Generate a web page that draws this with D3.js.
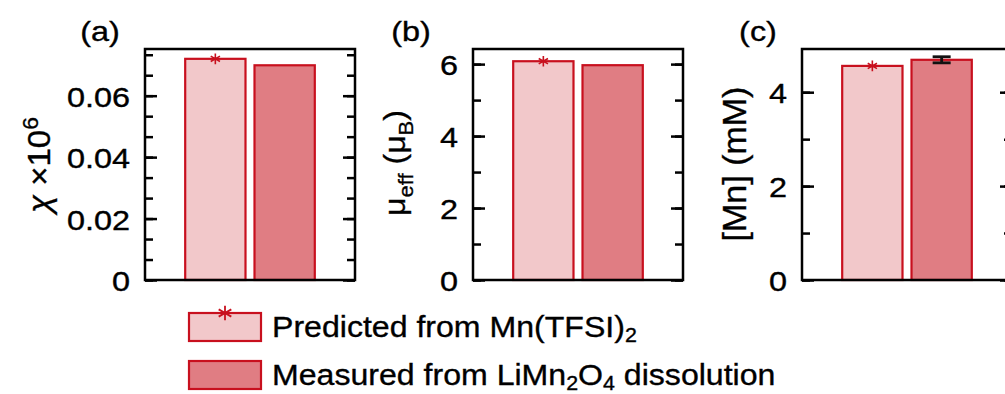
<!DOCTYPE html>
<html>
<head>
<meta charset="utf-8">
<script src="https://cdn.jsdelivr.net/npm/d3@7"></script>
<style>
  body { margin: 0; background: #fff; }
  text { font-family: "Liberation Sans", Arial, sans-serif; fill: #000; stroke: #000; stroke-width: 0.35px; }
</style>
</head>
<body>
<script>
// categories and values
const categories = ["Predicted", "Measured"];
const chiValues = [0.0720, 0.0699];
const muValues = [6.08, 5.97];
const mnValues = [4.56, 4.69];
const mnErrors = [0, 0.065];

const chiTicks = [0, 0.02, 0.04, 0.06];
const muTicks = [0, 2, 4, 6];
const mnTicks = [0, 2, 4];

const fills = ["#f2c8ca", "#e07d83"];
const edge = "#c8101e";

const width = 1005, height = 394;
const plotTop = 49, plotBottom = 280, panelW = 210;
const SX = 1.2; // tick text is drawn wide in the figure

const svg = d3.select("body").append("svg")
  .attr("width", width)
  .attr("height", height);

svg.append("rect").attr("width", width).attr("height", height).attr("fill", "#fff");

function label(g, x, y, size, anchor, rotate, sx) {
  let t = g.append("text")
    .attr("transform", `translate(${x},${y}) scale(${sx || SX},1)` + (rotate ? " rotate(-90)" : ""))
    .attr("font-size", size)
    .attr("text-anchor", anchor);
  return t;
}

function drawPanel(opts) {
  const x0 = opts.left;
  const y = d3.scaleLinear().domain([0, opts.max]).range([plotBottom, plotTop]);
  const x = d3.scaleBand().domain(categories)
    .range([x0, x0 + panelW]).paddingInner(0.13).paddingOuter(0.58);

  const g = svg.append("g");

  // bars
  g.selectAll("rect.bar")
    .data(opts.values)
    .enter().append("rect")
    .attr("class", "bar")
    .attr("x", (d, i) => x(categories[i]))
    .attr("width", x.bandwidth())
    .attr("y", d => y(d))
    .attr("height", d => y(0) - y(d))
    .attr("fill", (d, i) => fills[i])
    .attr("stroke", edge)
    .attr("stroke-width", 2.2);

  // asterisk on predicted bar
  g.append("path")
    .attr("d", d3.symbol(d3.symbolAsterisk, 80)())
    .attr("transform", `translate(${x(categories[0]) + x.bandwidth() / 2},${y(opts.values[0])})`)
    .attr("fill", "none")
    .attr("stroke", edge)
    .attr("stroke-width", 1.6);

  // error bars
  if (opts.errors) {
    opts.errors.forEach((e, i) => {
      if (!e) return;
      const cx = x(categories[i]) + x.bandwidth() / 2;
      const v = opts.values[i];
      const eb = g.append("g").attr("stroke", "#111").attr("stroke-width", 2.8);
      eb.append("line").attr("x1", cx).attr("x2", cx).attr("y1", y(v - e)).attr("y2", y(v + e));
      eb.append("line").attr("x1", cx - 9).attr("x2", cx + 9).attr("y1", y(v - e)).attr("y2", y(v - e));
      eb.append("line").attr("x1", cx - 9).attr("x2", cx + 9).attr("y1", y(v + e)).attr("y2", y(v + e));
    });
  }

  // ticks: majors labelled, minor ticks split each major step
  const step = opts.ticks[1] - opts.ticks[0];
  const minor = [];
  for (let v = 0; v <= opts.max + 1e-9; v += step / opts.minorDiv) minor.push(v);

  const axL = g.append("g").attr("transform", `translate(${x0},0)`)
    .call(d3.axisRight(y).tickValues(minor).tickSizeOuter(0).tickSizeInner(8).tickFormat(""));
  const axLmaj = g.append("g").attr("transform", `translate(${x0},0)`)
    .call(d3.axisRight(y).tickValues(opts.ticks).tickSizeOuter(0).tickSizeInner(12).tickFormat(""));
  const axR = g.append("g").attr("transform", `translate(${x0 + panelW},0)`)
    .call(d3.axisLeft(y).tickValues(minor).tickSizeOuter(0).tickSizeInner(8).tickFormat(""));
  const axRmaj = g.append("g").attr("transform", `translate(${x0 + panelW},0)`)
    .call(d3.axisLeft(y).tickValues(opts.ticks).tickSizeOuter(0).tickSizeInner(12).tickFormat(""));
  [axL, axLmaj, axR, axRmaj].forEach(a => {
    a.select(".domain").remove();
    a.selectAll("line").attr("stroke", "#000").attr("stroke-width", 2.5);
  });

  // frame
  g.append("rect")
    .attr("x", x0).attr("y", plotTop)
    .attr("width", panelW).attr("height", plotBottom - plotTop)
    .attr("fill", "none").attr("stroke", "#000").attr("stroke-width", 2.5);

  // tick labels
  opts.ticks.forEach(v => {
    label(g, x0 - 15, y(v) + 11, 27, "end").text(opts.fmt(v));
  });

  // panel letter
  label(g, opts.letterX, 41, 27, "middle").text(opts.letter);

  // y title
  opts.title(label(g, opts.titleX, opts.titleY, opts.titleSize, "middle", true, 0.95));
}

drawPanel({
  left: 145, max: 0.0752, values: chiValues, ticks: chiTicks, minorDiv: 3,
  fmt: v => v === 0 ? "0" : d3.format(".2f")(v),
  letter: "(a)", letterX: 100, titleX: 50, titleY: 165, titleSize: 33,
  title: t => {
    t.append("tspan").attr("font-style", "italic").text("χ");
    t.append("tspan").text(" ×10");
    t.append("tspan").attr("font-size", 23).attr("dy", -13).text("6");
  }
});

drawPanel({
  left: 473, max: 6.42, values: muValues, ticks: muTicks, minorDiv: 2,
  fmt: v => String(v),
  letter: "(b)", letterX: 411, titleX: 405, titleY: 163, titleSize: 32,
  title: t => {
    t.append("tspan").text("μ");
    t.append("tspan").attr("font-size", 22).attr("dy", 8).text("eff");
    t.append("tspan").attr("dy", -8).text(" (μ");
    t.append("tspan").attr("font-size", 22).attr("dy", 8).text("B");
    t.append("tspan").attr("dy", -8).text(")");
  }
});

drawPanel({
  left: 802, max: 4.92, values: mnValues, errors: mnErrors, ticks: mnTicks, minorDiv: 2,
  fmt: v => String(v),
  letter: "(c)", letterX: 758, titleX: 746, titleY: 164, titleSize: 34,
  title: t => t.text("[Mn] (mM)")
});

// legend
const legendNames = [
  ["Predicted from Mn(TFSI)", "2"],
  ["Measured from LiMn", "2", "O", "4", " dissolution"]
];
const legendY = [313, 361];
const lg = svg.append("g");
legendY.forEach((ly, i) => {
  lg.append("rect")
    .attr("x", 189).attr("y", ly)
    .attr("width", 72).attr("height", 28)
    .attr("fill", fills[i]).attr("stroke", edge).attr("stroke-width", 2.2);
  const t = label(lg, 272, ly + 24, 30, "start", false, 1.07);
  legendNames[i].forEach((s, k) => {
    const sub = k % 2 === 1;
    t.append("tspan")
      .attr("font-size", sub ? 20 : 30)
      .attr("dy", k === 0 ? 0 : (sub ? 5 : -5))
      .text(s);
  });
});
lg.append("path")
  .attr("d", d3.symbol(d3.symbolAsterisk, 150)())
  .attr("transform", `translate(225,${legendY[0]})`)
  .attr("fill", "none").attr("stroke", edge).attr("stroke-width", 1.8);
</script>
</body>
</html>
